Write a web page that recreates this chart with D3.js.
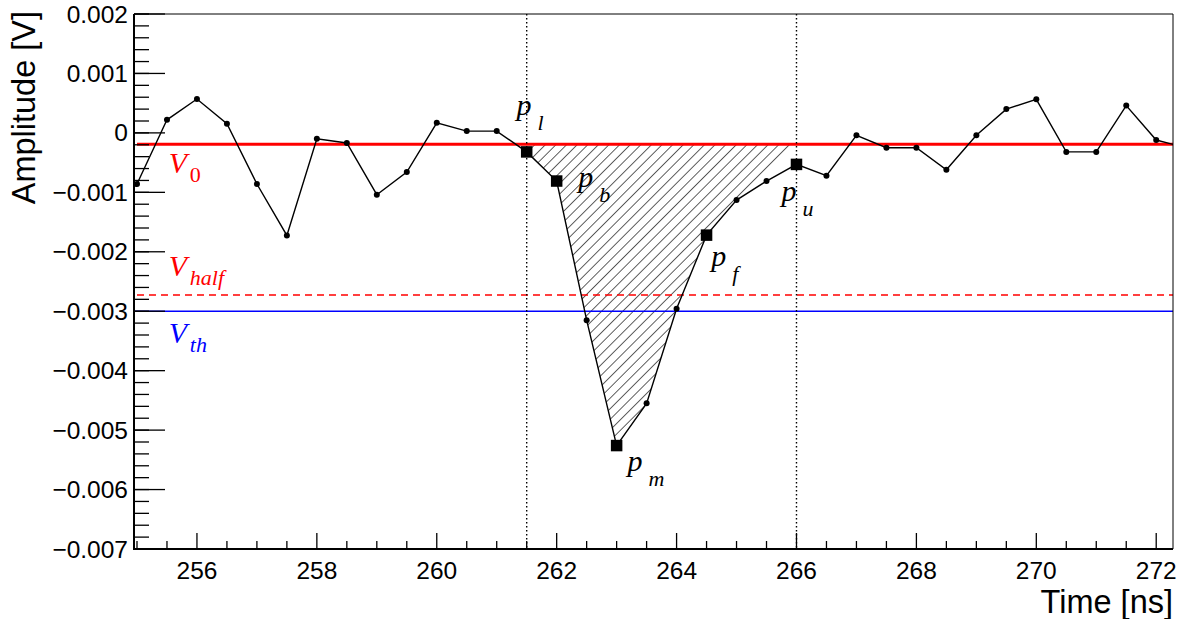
<!DOCTYPE html>
<html>
<head>
<meta charset="utf-8">
<script src="https://cdn.jsdelivr.net/npm/d3@7"></script>
<style>
  html, body { margin: 0; padding: 0; background: #fff; }
  svg { display: block; }
</style>
</head>
<body>
<svg id="chart" width="1184" height="619"></svg>
<script>
// Sampled waveform (time in ns, amplitude in V)
const times = [255, 255.5, 256, 256.5, 257, 257.5, 258, 258.5, 259, 259.5,
               260, 260.5, 261, 261.5, 262, 262.5, 263, 263.5, 264, 264.5,
               265, 265.5, 266, 266.5, 267, 267.5, 268, 268.5, 269, 269.5,
               270, 270.5, 271, 271.5, 272, 272.5];
const amplitudes = [-0.00086, 0.00022, 0.00057, 0.000155, -0.00086, -0.001725, -0.0001, -0.00017, -0.00104, -0.00066,
                    0.00017, 0.00003, 0.00003, -0.00032, -0.00081, -0.00315, -0.00526, -0.00455, -0.00296, -0.00172,
                    -0.00113, -0.00081, -0.00053, -0.00072, -0.00004, -0.00025, -0.00025, -0.00062, -0.00004, 0.0004,
                    0.000565, -0.00032, -0.00032, 0.00046, -0.00012, -0.00025];

// Characteristic pulse points (drawn as squares)
const keyTimes = [261.5, 262, 263, 264.5, 266];

// Reference levels
const baseline = -0.00019;     // V_0
const halfLevel = -0.002725;   // V_half
const threshold = -0.003;      // V_th

// Integration window bounds (dotted lines)
const windowLow = 261.5;
const windowHigh = 266;
const fallEnd = 264.5;

// Axis ticks
const xMajorTicks = [256, 258, 260, 262, 264, 266, 268, 270, 272];
const yMajorTicks = [0.002, 0.001, 0, -0.001, -0.002, -0.003, -0.004, -0.005, -0.006, -0.007];

// Annotation labels: main symbol, subscript, anchor (t, v), colour
const labelMain = ["p", "p", "p", "p", "p", "V", "V", "V"];
const labelSub = ["l", "b", "m", "f", "u", "0", "half", "th"];
const labelT = [261.33, 262.36, 263.18, 264.58, 265.75, 255.53, 255.53, 255.53];
const labelV = [0.000295, -0.000903, -0.005695, -0.002236, -0.001139, -0.000683, -0.002405, -0.003535];
const labelColor = ["#000", "#000", "#000", "#000", "#000", "#ff0000", "#ff0000", "#0000ff"];

(function draw() {
  const svg = d3.select("#chart");
  const pL = 134, pR = 1173, pT = 14, pB = 549;

  const x = d3.scaleLinear().domain([254.95, 272.28]).range([pL, pR]);
  const y = d3.scaleLinear().domain([-0.007, 0.002]).range([pB, pT]);

  const defs = svg.append("defs");
  defs.append("clipPath").attr("id", "plotClip")
    .append("rect").attr("x", pL).attr("y", pT).attr("width", pR - pL).attr("height", pB - pT);

  const hatch = defs.append("pattern")
    .attr("id", "hatch")
    .attr("patternUnits", "userSpaceOnUse")
    .attr("width", 7.5).attr("height", 7.5)
    .attr("patternTransform", "rotate(45)");
  hatch.append("line")
    .attr("x1", 0).attr("y1", -1).attr("x2", 0).attr("y2", 8.5)
    .attr("stroke", "#000").attr("stroke-width", 1.25);

  const pts = times.map((t, i) => ({ t, v: amplitudes[i], key: keyTimes.includes(t) }));

  const plot = svg.append("g").attr("clip-path", "url(#plotClip)");

  // Hatched integration area
  const areaPts = [{ t: windowLow, v: baseline }]
    .concat(pts.filter(p => p.t >= windowLow && p.t <= fallEnd))
    .concat([{ t: windowHigh, v: baseline }]);
  plot.append("path")
    .attr("d", d3.line().x(d => x(d.t)).y(d => y(d.v))(areaPts) + "Z")
    .attr("fill", "url(#hatch)")
    .attr("stroke", "none");

  // Reference lines
  plot.append("line")
    .attr("x1", x(255)).attr("x2", pR + 2)
    .attr("y1", y(baseline)).attr("y2", y(baseline))
    .attr("stroke", "#ff0000").attr("stroke-width", 3);
  plot.append("line")
    .attr("x1", x(255)).attr("x2", pR)
    .attr("y1", y(halfLevel)).attr("y2", y(halfLevel))
    .attr("stroke", "#ff0000").attr("stroke-width", 1.5)
    .attr("stroke-dasharray", "7,5");
  plot.append("line")
    .attr("x1", pL).attr("x2", pR)
    .attr("y1", y(threshold)).attr("y2", y(threshold))
    .attr("stroke", "#0000ff").attr("stroke-width", 1.5);

  // Window boundaries
  [windowLow, windowHigh].forEach(t => {
    plot.append("line")
      .attr("x1", x(t)).attr("x2", x(t))
      .attr("y1", pT).attr("y2", pB)
      .attr("stroke", "#000").attr("stroke-width", 1.4)
      .attr("stroke-dasharray", "1.5,2.5");
  });

  // Waveform
  plot.append("path")
    .attr("d", d3.line().x(d => x(d.t)).y(d => y(d.v))(pts))
    .attr("fill", "none").attr("stroke", "#000").attr("stroke-width", 1.4);

  plot.selectAll("circle.pt").data(pts.filter(p => !p.key)).enter()
    .append("circle").attr("class", "pt")
    .attr("cx", d => x(d.t)).attr("cy", d => y(d.v)).attr("r", 3)
    .attr("fill", "#000");

  const sq = 11.5;
  plot.selectAll("rect.key").data(pts.filter(p => p.key)).enter()
    .append("rect").attr("class", "key")
    .attr("x", d => x(d.t) - sq / 2).attr("y", d => y(d.v) - sq / 2)
    .attr("width", sq).attr("height", sq)
    .attr("fill", "#000");

  // Frame
  svg.append("line").attr("x1", pL).attr("x2", pR).attr("y1", pT).attr("y2", pT)
    .attr("stroke", "#000").attr("stroke-width", 1);
  svg.append("line").attr("x1", pR).attr("x2", pR).attr("y1", pT).attr("y2", pB)
    .attr("stroke", "#000").attr("stroke-width", 1);

  // Y axis
  const yAxis = svg.append("g");
  yAxis.append("line").attr("x1", pL).attr("x2", pL).attr("y1", pT).attr("y2", pB + 1)
    .attr("stroke", "#000").attr("stroke-width", 2);
  const yMinor = d3.range(0, 46).map(i => -0.007 + i * 0.0002).filter(v => v <= 0.00201);
  yAxis.selectAll("line.ymin").data(yMinor).enter().append("line")
    .attr("x1", pL).attr("x2", pL + 15)
    .attr("y1", d => y(d)).attr("y2", d => y(d))
    .attr("stroke", "#000").attr("stroke-width", 1.3);
  yAxis.selectAll("line.ymaj").data(yMajorTicks).enter().append("line")
    .attr("x1", pL).attr("x2", pL + 31)
    .attr("y1", d => y(d)).attr("y2", d => y(d))
    .attr("stroke", "#000").attr("stroke-width", 1.3);
  const fmtY = v => (Math.abs(v) < 1e-12 ? "0" : v.toFixed(3).replace("-", "\u2212"));
  yAxis.selectAll("text").data(yMajorTicks).enter().append("text")
    .attr("x", pL - 6).attr("y", d => y(d) + 8.5)
    .attr("text-anchor", "end")
    .attr("font-family", "Liberation Sans, Arial, sans-serif")
    .attr("font-size", 24.5)
    .text(fmtY);

  // X axis
  const xAxis = svg.append("g");
  xAxis.append("line").attr("x1", pL - 1).attr("x2", pR).attr("y1", pB).attr("y2", pB)
    .attr("stroke", "#000").attr("stroke-width", 2);
  const xMinor = d3.range(0, 35).map(i => 255 + i * 0.5).filter(t => !xMajorTicks.includes(t));
  xAxis.selectAll("line.xmin").data(xMinor).enter().append("line")
    .attr("x1", d => x(d)).attr("x2", d => x(d))
    .attr("y1", pB).attr("y2", pB - 8)
    .attr("stroke", "#000").attr("stroke-width", 1.3);
  xAxis.selectAll("line.xmaj").data(xMajorTicks).enter().append("line")
    .attr("x1", d => x(d)).attr("x2", d => x(d))
    .attr("y1", pB).attr("y2", pB - 16)
    .attr("stroke", "#000").attr("stroke-width", 1.3);
  xAxis.selectAll("text").data(xMajorTicks).enter().append("text")
    .attr("x", d => x(d)).attr("y", pB + 30)
    .attr("text-anchor", "middle")
    .attr("font-family", "Liberation Sans, Arial, sans-serif")
    .attr("font-size", 24.5)
    .text(d => d);

  // Axis titles
  svg.append("text")
    .attr("transform", `translate(35, ${pT - 3}) rotate(-90)`)
    .attr("text-anchor", "end")
    .attr("font-family", "Liberation Sans, Arial, sans-serif")
    .attr("font-size", 32.5)
    .text("Amplitude [V]");
  svg.append("text")
    .attr("x", pR).attr("y", 613)
    .attr("text-anchor", "end")
    .attr("font-family", "Liberation Sans, Arial, sans-serif")
    .attr("font-size", 32.5)
    .text("Time [ns]");

  // Annotations
  labelMain.forEach((m, i) => {
    const isV = m === "V";
    const g = svg.append("text")
      .attr("x", x(labelT[i])).attr("y", y(labelV[i]))
      .attr("font-family", "Liberation Serif, Times New Roman, serif")
      .attr("fill", labelColor[i]);
    g.append("tspan").attr("font-size", 30).attr("font-style", "italic").text(m);
    g.append("tspan")
      .attr("x", x(labelT[i]) + 21)
      .attr("dy", isV ? 9 : 15)
      .attr("font-size", 22)
      .attr("font-style", labelSub[i] === "0" ? "normal" : "italic")
      .text(labelSub[i]);
  });
})();
</script>
</body>
</html>
